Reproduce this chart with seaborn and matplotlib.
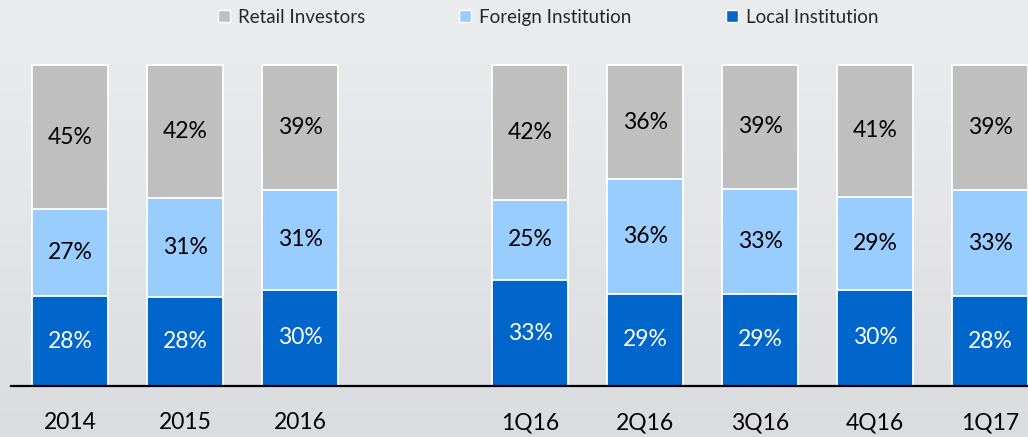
import numpy as np
import pandas as pd
import seaborn as sns
import matplotlib.pyplot as plt
from matplotlib.colors import LinearSegmentedColormap
from matplotlib.lines import Line2D

periods = ["2014", "2015", "2016", "1Q16", "2Q16", "3Q16", "4Q16", "1Q17"]
retail = [45, 42, 39, 42, 36, 39, 41, 39]
foreign = [27, 31, 31, 25, 36, 33, 29, 33]
local = [28, 28, 30, 33, 29, 29, 30, 28]

# blank slot between the annual and the quarterly bars
order = periods[:3] + [" "] + periods[3:]

colors = {"Retail Investors": "#bfbfbf",
          "Foreign Institution": "#99ccff",
          "Local Institution": "#0066cc"}

df = pd.DataFrame({"period": periods, "retail": retail,
                   "foreign": foreign, "local": local})
# rounded labels don't always add to 100, bars are drawn as shares of 100
total = df["retail"] + df["foreign"] + df["local"]
df["h_local"] = df["local"] / total * 100
df["h_mid"] = (df["local"] + df["foreign"]) / total * 100
df["h_top"] = 100.0

sns.set_style("white")
plt.rcParams["font.family"] = ["Lato", "DejaVu Sans"]

fig = plt.figure(figsize=(10.28, 4.37), dpi=100)

# brushed-metal style background
bg = fig.add_axes([0, 0, 1, 1], zorder=-10)
grad = np.linspace(0, 1, 256).reshape(-1, 1)
bg.imshow(grad, aspect="auto", extent=[0, 1, 0, 1],
          cmap=LinearSegmentedColormap.from_list(
              "metal", ["#eaecee", "#e3e5e8", "#dadcdf"]))
bg.axis("off")

ax = fig.add_axes([11 / 1028, 0.1167, 1 - 11 / 1028, 0.7346])
ax.patch.set_alpha(0)

bar_kw = dict(order=order, width=0.66, edgecolor="white", linewidth=1.3,
              ax=ax, saturation=1)
sns.barplot(data=df, x="period", y="h_top", color=colors["Retail Investors"], **bar_kw)
sns.barplot(data=df, x="period", y="h_mid", color=colors["Foreign Institution"], **bar_kw)
sns.barplot(data=df, x="period", y="h_local", color=colors["Local Institution"], **bar_kw)
for p in ax.patches:
    p.set_clip_on(False)

lab = 16.5
for _, r in df.iterrows():
    xi = order.index(r["period"])
    ax.text(xi, r["h_local"] / 2, f"{r['local']}%", ha="center", va="center",
            color="white", fontsize=lab)
    ax.text(xi, (r["h_local"] + r["h_mid"]) / 2, f"{r['foreign']}%",
            ha="center", va="center", color="black", fontsize=lab)
    ax.text(xi, (r["h_mid"] + r["h_top"]) / 2, f"{r['retail']}%",
            ha="center", va="center", color="black", fontsize=lab)

ax.set_xlim(-0.513, 8.33)
ax.set_ylim(0, 100)
ax.set_yticks([])
ax.set_xlabel("")
ax.set_ylabel("")
for s in ["left", "right", "top"]:
    ax.spines[s].set_visible(False)
ax.spines["bottom"].set_color("black")
ax.spines["bottom"].set_linewidth(1.6)
ax.tick_params(axis="x", length=0, pad=19, labelsize=16.5, colors="black")

handles = [Line2D([], [], marker="s", linestyle="none", markersize=9,
                  markerfacecolor=c, markeredgecolor="white", markeredgewidth=1)
           for c in colors.values()]
fig.legend(handles, list(colors.keys()), loc="center",
           bbox_to_anchor=(0.533, 0.961), ncol=3, frameon=False,
           fontsize=13.5, handlelength=0.7, handletextpad=0.4,
           columnspacing=5.0)

fig.savefig("out.png", dpi=100)
